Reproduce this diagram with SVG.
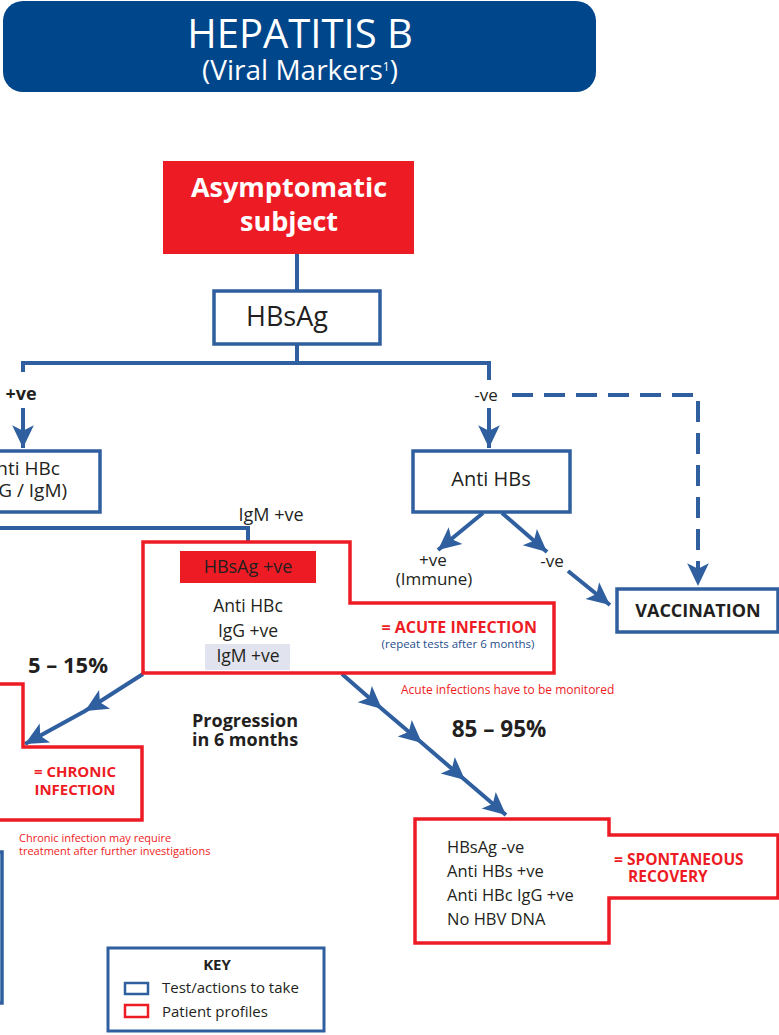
<svg xmlns="http://www.w3.org/2000/svg" width="779" height="1035" viewBox="0 0 779 1035">
<style>
text{font-family:"Open Sans","Noto Sans","Liberation Sans",sans-serif;fill:#231f20}
.b{font-weight:bold}
.w{fill:#ffffff}
.r{fill:#ed1c24}
.bl{fill:#1f4e8c}
.test{fill:#ffffff;stroke:#2f5f9f;stroke-width:3.5}
.prof{fill:#ffffff;stroke:#ed1c24;stroke-width:3.5}
.conn{fill:none;stroke:#2f5f9f;stroke-width:4}
.c{text-anchor:middle}
</style>
<defs>
<marker id="ah" markerUnits="userSpaceOnUse" markerWidth="26" markerHeight="26" viewBox="-22 -11 24 22" refX="0" refY="0" orient="auto">
<path d="M0,0 L-21,-10 L-16,0 L-21,10 Z" fill="#2f5f9f"/>
</marker>
</defs>

<g id="title">
<rect x="3" y="1" width="593" height="91" rx="20" fill="#00468b"/>
<text x="300" y="48" class="w c" font-size="40">HEPATITIS B</text>
<text x="300" y="80" class="w c" font-size="28">(Viral Markers<tspan font-size="12" dy="-9">1</tspan><tspan dy="9">)</tspan></text>
</g>

<g id="connectors">
<path class="conn" d="M297,253 V290"/>
<path class="conn" d="M297,344 V363 H489 V380"/>
<path class="conn" d="M297,363 H23 V372"/>
<path class="conn" d="M23,408 V448" marker-end="url(#ah)"/>
<path class="conn" d="M489,408 V448" marker-end="url(#ah)"/>
<path class="conn" d="M512,395 H698 V586" stroke-dasharray="21 11" marker-end="url(#ah)"/>
<path class="conn" d="M483,513 L438,550" marker-end="url(#ah)"/>
<path class="conn" d="M502,513 L547,552" marker-end="url(#ah)"/>
<path class="conn" d="M568,571 L610,605" marker-end="url(#ah)"/>
<path class="conn" d="M0,528 H248 V541"/>
<path class="conn" d="M143,674 L85,711 L25,744" marker-mid="url(#ah)" marker-end="url(#ah)"/>
<path class="conn" d="M342,674 L382,709 L422,743 L465,780 L506,815" marker-mid="url(#ah)" marker-end="url(#ah)"/>
</g>

<g id="asymptomatic">
<rect x="163" y="161" width="251" height="93" fill="#ed1c24"/>
<text x="289" y="197" class="w b c" font-size="27">Asymptomatic</text>
<text x="289" y="231" class="w b c" font-size="27">subject</text>
</g>

<g id="hbsag">
<rect x="214" y="291" width="166" height="53" class="test"/>
<text x="287" y="326" class="c" font-size="27">HBsAg</text>
</g>

<g id="label-pos">
<text x="21" y="400" class="b c" font-size="18">+ve</text>
</g>
<g id="label-neg">
<text x="486" y="401" class="c" font-size="17">-ve</text>
</g>

<g id="anti-hbc">
<rect x="-60" y="451" width="160" height="61" class="test"/>
<text x="22" y="475" class="c" font-size="19">Anti HBc</text>
<text x="22" y="497" class="c" font-size="19">(IgG / IgM)</text>
</g>
<g id="label-igm">
<text x="271" y="521" class="c" font-size="18">IgM +ve</text>
</g>

<g id="anti-hbs">
<rect x="413" y="451" width="157" height="61" class="test"/>
<text x="491" y="486" class="c" font-size="20">Anti HBs</text>
</g>
<g id="label-immune">
<text x="433" y="566" class="c" font-size="17">+ve</text>
<text x="434" y="585" class="c" font-size="17">(Immune)</text>
</g>
<g id="label-neg2">
<text x="552" y="567" class="c" font-size="17">-ve</text>
</g>

<g id="vaccination">
<rect x="617" y="589" width="161" height="43" class="test"/>
<text x="698" y="617" class="b c" font-size="18">VACCINATION</text>
</g>

<g id="acute">
<path class="prof" d="M143,542 H350 V603 H554 V673 H143 Z"/>
<rect x="180" y="551" width="136" height="32" fill="#ed1c24"/>
<text x="248" y="573" class="c" font-size="18">HBsAg +ve</text>
<text x="248" y="612" class="c" font-size="17.5">Anti HBc</text>
<text x="248" y="637" class="c" font-size="17.5">IgG +ve</text>
<rect x="205" y="644" width="85" height="26" fill="#e1e4ef"/>
<text x="248" y="662" class="c" font-size="17.5">IgM +ve</text>
<text x="537" y="633" class="r b" text-anchor="end" font-size="16">= ACUTE INFECTION</text>
<text x="458" y="648" class="bl c" font-size="11.5">(repeat tests after 6 months)</text>
</g>
<g id="note-acute">
<text x="401" y="694" class="r" font-size="12">Acute infections have to be monitored</text>
</g>

<g id="pct-chronic">
<text x="68" y="673" class="b c" font-size="22">5 – 15%</text>
</g>
<g id="progression">
<text x="245" y="727" class="b c" font-size="18">Progression</text>
<text x="245" y="746" class="b c" font-size="18">in 6 months</text>
</g>
<g id="pct-recovery">
<text x="499" y="737" class="b c" font-size="22.5">85 – 95%</text>
</g>

<g id="chronic">
<path class="prof" d="M-10,684 H23 V747 H142 V820 H-10 Z"/>
<text x="75" y="777" class="r b c" font-size="15">= CHRONIC</text>
<text x="75" y="795" class="r b c" font-size="15">INFECTION</text>
</g>
<g id="note-chronic">
<text x="19" y="842" class="r" font-size="11">Chronic infection may require</text>
<text x="19" y="855" class="r" font-size="11">treatment after further investigations</text>
</g>

<g id="recovery">
<path class="prof" d="M415,819 H609 V835 H778 V898 H609 V943 H415 Z"/>
<text x="447" y="853" font-size="16.5">HBsAg -ve</text>
<text x="447" y="877" font-size="16.5">Anti HBs +ve</text>
<text x="447" y="901" font-size="16.5">Anti HBc IgG +ve</text>
<text x="447" y="925" font-size="16.5">No HBV DNA</text>
<text x="614" y="865" class="r b" font-size="15.5">= SPONTANEOUS</text>
<text x="628" y="882" class="r b" font-size="15.5">RECOVERY</text>
</g>

<g id="left-box">
<rect x="-100" y="852" width="102" height="151" class="test"/>
</g>

<g id="key">
<rect x="108" y="948" width="216" height="83" fill="#ffffff" stroke="#2f5f9f" stroke-width="3"/>
<text x="217" y="970" class="b c" font-size="15">KEY</text>
<rect x="125" y="983" width="23" height="11" fill="#ffffff" stroke="#2f5f9f" stroke-width="2.5"/>
<text x="162" y="993" font-size="15">Test/actions to take</text>
<rect x="125" y="1005" width="23" height="12" fill="#ffffff" stroke="#ed1c24" stroke-width="2.5"/>
<text x="162" y="1017" font-size="15">Patient profiles</text>
</g>
</svg>
